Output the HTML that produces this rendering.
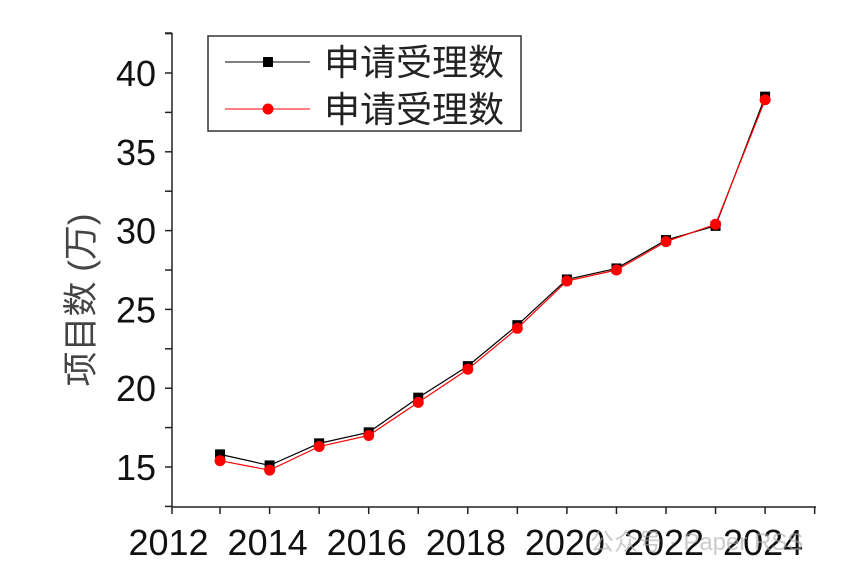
<!DOCTYPE html>
<html><head><meta charset="utf-8"><style>
body{margin:0;background:#fff}
svg text{font-family:"Liberation Sans","Noto Sans CJK SC",sans-serif}
</style></head><body>
<svg id="c" width="866" height="573">
<g id="axes"></g>
<g id="series"></g>
<text x="0" y="0" transform="translate(93,300) rotate(-90)" text-anchor="middle" font-size="35" fill="#444">项目数 (万)</text>
<g>
<rect x="208" y="36" width="313" height="95" fill="#fff" stroke="#333" stroke-width="1.5"/>
<g>
<line x1="225" y1="62" x2="310" y2="62" stroke="#000" stroke-width="1"/>
<rect x="263" y="57" width="10" height="10" fill="#000"/>
<text x="324" y="75" font-size="36" fill="#222">申请受理数</text></g>
<g>
<line x1="225" y1="109" x2="310" y2="109" stroke="#f00" stroke-width="1"/>
<circle cx="268" cy="109" r="5.5" fill="#f00"/>
<text x="324" y="122" font-size="36" fill="#222">申请受理数</text></g>
</g>
<script>
const years=[2013,2014,2015,2016,2017,2018,2019,2020,2021,2022,2023,2024];
const blackVals=[15.8,15.1,16.5,17.2,19.4,21.4,24.0,26.9,27.6,29.4,30.3,38.5];
const redVals=[15.4,14.8,16.3,17.0,19.1,21.2,23.8,26.8,27.5,29.3,30.4,38.3];
const xTicks=[2012,2014,2016,2018,2020,2022,2024];
const yTicks=[15,20,25,30,35,40];
const NS="http://www.w3.org/2000/svg";
const X=v=>170.5+(v-2012)*49.55;
const Y=v=>467-(v-15)*15.76;
function mk(t,a,p){const e=document.createElementNS(NS,t);for(const k in a)e.setAttribute(k,a[k]);p.appendChild(e);return e;}
const ax=document.getElementById('axes');
let l=mk('line',{x1:172,y1:33,x2:172,y2:507,stroke:'#222','stroke-width':1.5},ax);


l=mk('line',{x1:172,y1:507,x2:816,y2:507,stroke:'#222','stroke-width':1.5},ax);


mk('line',{x1:165,y1:33,x2:172,y2:33,stroke:'#222','stroke-width':1.5},ax);
for(let yr=2012;yr<=2025;yr++){const xx=Math.max(172,X(yr));mk('line',{x1:xx,y1:507,x2:xx,y2:514,stroke:'#222','stroke-width':1.5},ax);}
xTicks.forEach(v=>{const t=mk('text',{x:X(v)-2,y:555,'text-anchor':'middle','font-size':36,fill:'#111'},ax);t.textContent=v;

});
for(let v=12.5;v<=42.5;v+=2.5){mk('line',{x1:165,y1:Y(v),x2:172,y2:Y(v),stroke:'#222','stroke-width':1.5},ax);}
yTicks.forEach(v=>{const t=mk('text',{x:156,y:Y(v)+13,'text-anchor':'end','font-size':36,fill:'#111'},ax);t.textContent=v;

});
const sg=document.getElementById('series');
function series(vals,color,sq,name){
 const p=mk('polyline',{points:years.map((y,i)=>X(y)+','+Y(vals[i])).join(' '),fill:'none',stroke:color,'stroke-width':1.2},sg);
 
 
 years.forEach((y,i)=>{let m;
  if(sq)m=mk('rect',{x:X(y)-5,y:Y(vals[i])-5,width:10,height:10,fill:color},sg);
  else m=mk('circle',{cx:X(y),cy:Y(vals[i]),r:5.5,fill:color},sg);
  
  });
}
series(blackVals,'#000',true,'black-series');
series(redVals,'#f00',false,'red-series');
</script>
<text x="590" y="550" font-size="24" fill="#aaa" opacity="0.6">公众号 · Paper RSS</text>
</svg>
</body></html>
